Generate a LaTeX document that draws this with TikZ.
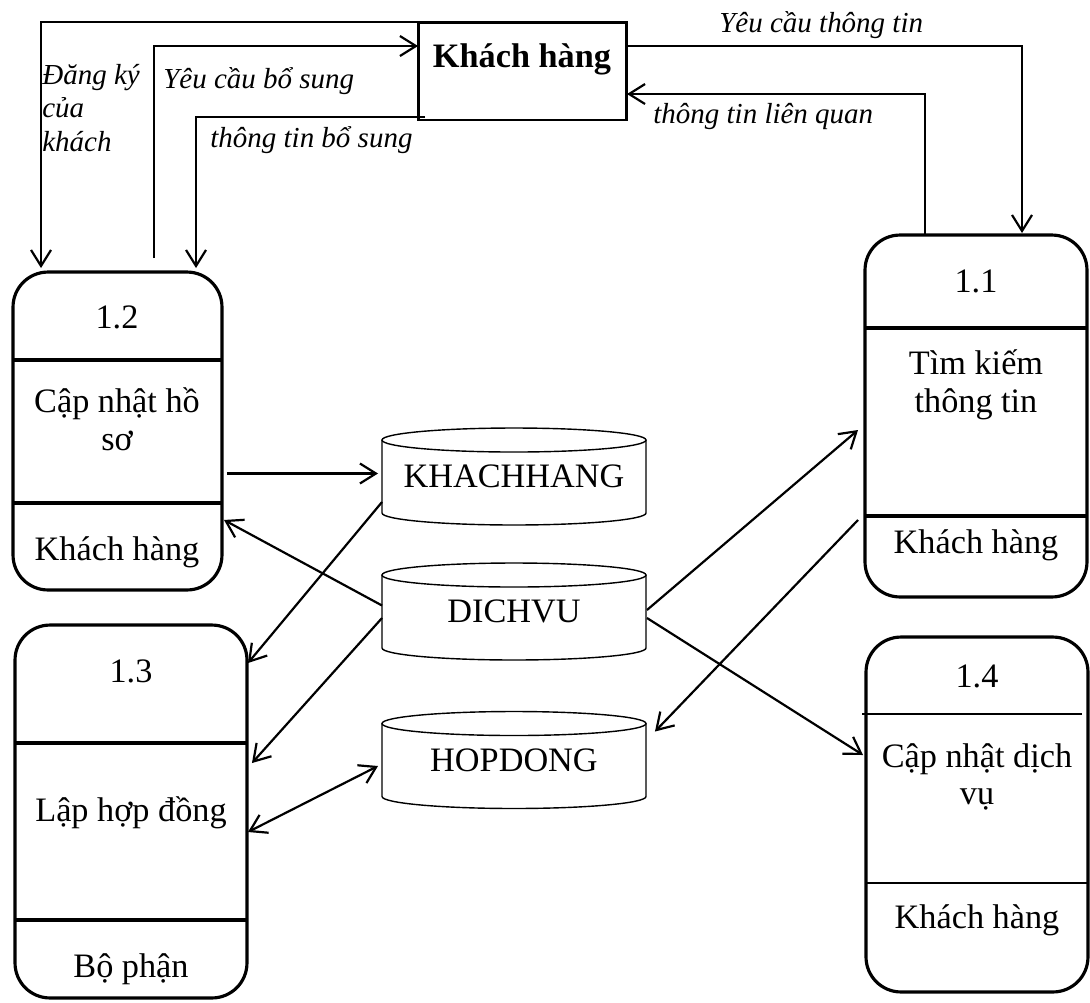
\documentclass[tikz,border=0pt]{standalone}
\usepackage{fontspec}
\setmainfont{Liberation Serif}
\usepackage{tikz}
\usetikzlibrary{calc,arrows.meta}
\tikzset{
	process/.style={draw, line width=1.8pt, rounded corners=0.7cm, inner sep=0pt, outer sep=0pt},
	entity/.style={draw, line width=1.7pt, inner sep=0pt, outer sep=0pt},
	store/.style={rectangle, inner sep=0pt, outer sep=0pt, minimum width=5.28cm, minimum height=1.94cm, font=\fontsize{19.5}{22}\selectfont},
	storeline/.style={line width=0.8pt},
	sepline/.style={line width=1.8pt},
	flow/.style={line width=1.25pt, -{Straight Barb[length=3.2mm,width=4mm]}},
	bothflow/.style={line width=1.25pt, {Straight Barb[length=3.2mm,width=4mm]}-{Straight Barb[length=3.2mm,width=4mm]}},
	txt/.style={inner sep=0pt, font=\fontsize{19.5}{21.5}\selectfont, align=center},
	lbl/.style={inner sep=0pt, font=\fontsize{16.5}{19}\selectfont\itshape, align=left},
}
\def\datastore(#1)(#2,#3)#4{%
	\node[store] (#1) at (#2,#3) {#4};
	\draw[storeline] ($(#1.north west)+(0,12)$) -- ($(#1.south west)+(0,-12)$) arc[start angle=180, end angle=0, x radius=132, y radius=12] -- ($(#1.north east)+(0,12)$);
	\draw[storeline] ($(#1.north)+(0,12)$) ellipse[x radius=132, y radius=12];
}

\begin{document}
\begin{tikzpicture}[x=0.02cm, y=-0.02cm]
		%%%%% START %%%%%
		\useasboundingbox (0,0) rectangle (1090,1002);
		
		\node[entity, minimum width=4.18cm, minimum height=1.96cm] (kh) at (522.5,71) {};
		\node[txt, font=\fontsize{19.5}{22}\selectfont\bfseries] (khname) at (522,59) {Khách hàng};
		
		\node[process, minimum width=4.44cm, minimum height=7.24cm] (p11) at (976,416) {};
		\draw[sepline] (865,328) -- (1087,328);
		\draw[sepline] (865,516) -- (1087,516);
		\node[txt] (p11num) at (976,281) {1.1};
		\node[txt] (p11name) at (976,385) {Tìm kiếm\\thông tin};
		\node[txt] (p11who) at (976,545) {Khách hàng};
		
		\node[process, minimum width=4.18cm, minimum height=6.36cm] (p12) at (117.5,431) {};
		\draw[sepline] (13,360) -- (222,360);
		\draw[sepline] (13,503) -- (222,503);
		\node[txt] (p12num) at (117,317) {1.2};
		\node[txt] (p12name) at (117,419) {Cập nhật hồ\\sơ};
		\node[txt] (p12who) at (117,552) {Khách hàng};
		
		\node[process, minimum width=4.64cm, minimum height=7.46cm] (p13) at (131,811.5) {};
		\draw[sepline] (15,743) -- (247,743);
		\draw[sepline] (15,920) -- (248,920);
		\node[txt] (p13num) at (131,671) {1.3};
		\node[txt] (p13name) at (131,813) {Lập hợp đồng};
		\node[txt] (p13who) at (131,969) {Bộ phận};
		
		\node[process, minimum width=4.44cm, minimum height=7.10cm] (p14) at (977,814.5) {};
		\draw[line width=1.2pt] (862,714) -- (1082,714);
		\draw[line width=1.2pt] (866,883) -- (1088,883);
		\node[txt] (p14num) at (977,676) {1.4};
		\node[txt] (p14name) at (977,777) {Cập nhật dịch\\vụ};
		\node[txt] (p14who) at (977,920) {Khách hàng};
		
		\datastore(khdb)(514,476.5){KHACHHANG}
		\datastore(dvdb)(514,611.5){DICHVU}
		\datastore(hddb)(514,760){HOPDONG}
		
		\draw[flow] (kh.north west) -| ($(p12.north west)+(28,-4)$);
		\draw[flow] ($(p12.north west)+(141,-14)$) |- ($(kh.north west)+(0,24)$);
		\draw[flow] ($(kh.south west)+(7,-3)$) -| ($(p12.north west)+(183,-4)$);
		\draw[flow] ($(kh.north east)+(0,24)$) -| ($(p11.north west)+(157,-2)$);
		\draw[flow] ($(p11.north west)+(60,0)$) |- ($(kh.north east)+(0,72)$);
		
		\node[lbl, anchor=north west] (regtxt) at (42,64) {Đăng ký\\của\\khách};
		\node[lbl, anchor=base west] (addreq) at (163,88) {Yêu cầu bổ sung};
		\node[lbl, anchor=base west] (addinfo) at (210,147) {thông tin bổ sung};
		\node[lbl, anchor=base west] (inforeq) at (719,32) {Yêu cầu thông tin};
		\node[lbl, anchor=base west] (relinfo) at (653,123) {thông tin liên quan};
		
		\draw[flow] ($(p12.east |- khdb.west)+(5,-3)$) -- ($(khdb.west)+(-4,-3)$);
		\draw[flow] ($(dvdb.west)+(0,-6)$) -- ($(p12.south east)+(2,-70)$);
		\draw[flow] ($(khdb.south west)+(0,-23)$) -- ($(p13.north east)+(1,38)$);
		\draw[flow] ($(dvdb.west)+(0,6.5)$) -- ($(p13.north east)+(5,138)$);
		\draw[bothflow] ($(hddb.west)+(-4,6)$) -- ($(p13.east)+(1,20.5)$);
		\draw[flow] ($(dvdb.east)+(1,-1.5)$) -- ($(p11.west)+(-7,14)$);
		\draw[flow] ($(p11.west)+(-7,104)$) -- ($(hddb.north east)+(9,20)$);
		\draw[flow] ($(dvdb.east)+(1,6.5)$) -- ($(p14.west)+(-3,-59.5)$);
		%%%%% END %%%%%
\end{tikzpicture}
\end{document}
